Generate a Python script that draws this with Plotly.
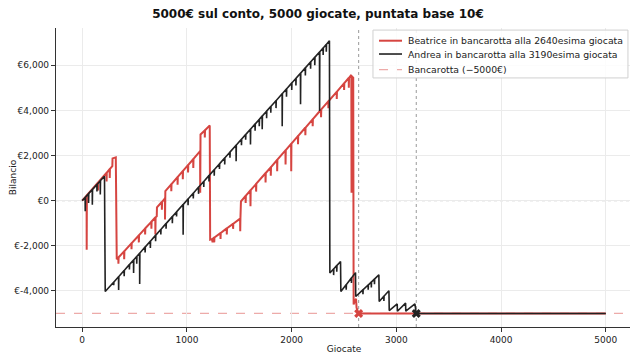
import plotly.graph_objects as go

# ---- Data (giocata number, balance in €) ----
BEA_GIOCATA = [0, 20, 42, 43, 45, 90, 150, 151, 153, 200, 232, 233, 235, 262, 263, 265, 288, 290, 321, 324, 330,
               345, 346, 348, 400, 401, 403, 470, 471, 473, 540, 541, 543, 600, 601, 603, 660, 661, 663, 698, 699, 701,
               712, 714, 760, 761, 763, 790, 791, 792, 794,
               850, 851, 853, 910, 911, 913, 960, 961, 963, 1010, 1011, 1013, 1060, 1061, 1063, 1126, 1127, 1129, 1130,
               1170, 1171, 1173, 1218, 1222,
               1240, 1245, 1247, 1260, 1261, 1263, 1320, 1321, 1323, 1380, 1381, 1383, 1440, 1441, 1443, 1508, 1509, 1511, 1516,
               1560, 1561, 1563, 1606, 1607, 1609, 1660, 1661, 1663, 1750, 1751, 1753, 1800, 1801, 1803, 1861, 1862, 1864,
               1941, 1942, 1944, 1995, 1996, 1998, 2060, 2061, 2063, 2130, 2131, 2133, 2200, 2201, 2203, 2280, 2281, 2283,
               2350, 2351, 2353, 2430, 2431, 2433, 2500, 2501, 2503, 2545, 2546, 2548, 2570, 2572, 2576, 2588, 2592,
               2600, 2615, 2620, 2640, 5000]
BEA_SALDO = [0, 100, 220, -2180, 240, 480, 800, 450, 810, 1060, 1230, 850, 1245, 1390, 1000, 1405, 1530, 1870, 1920, -2450, -2600,
             -2525, -2800, -2510, -2250, -2600, -2235, -1895, -2150, -1880, -1545, -1850, -1530, -1240, -1500, -1225, -940, -1250, -925, -750, -1500, -740,
             -690, -300, -60, -400, -50, 100, -840, 110, 420,
             720, 420, 730, 1040, 700, 1055, 1305, 950, 1320, 1570, 1250, 1585, 1835, 1450, 1850, 2190, 350, 2190, 2930,
             3110, 2800, 3120, 3330, -1730,
             -1700, -1850, -1690, -1640, -1850, -1630, -1440, -1700, -1430, -1230, -1500, -1220, -1030, -1250, -1020, -800, -1360, -790, -30,
             204, -100, 220, 448, -250, 464, 735, 400, 750, 1212, 800, 1225, 1478, 1100, 1490, 1800, 1300, 1815,
             2225, 1600, 2240, 2513, 1300, 2525, 2859, 2500, 2870, 3230, 2900, 3240, 3602, 3300, 3615, 4027, 3700, 4040,
             4399, 4100, 4410, 4823, 4500, 4835, 5195, 4900, 5205, 5434, 5000, 5445, 5570, 350, 5500, 5450, -4600,
             -4500, -4350, -4750, -5000, -5000]

AND_GIOCATA = [0, 28, 29, 31, 60, 61, 63, 96, 97, 99, 140, 141, 143, 172, 173, 175, 213, 220,
               300, 301, 303, 347, 348, 350, 400, 401, 403, 450, 451, 453, 490, 491, 493, 520, 521, 523, 548, 549, 551,
               600, 601, 603, 650, 651, 653, 700, 701, 703, 750, 751, 753, 800, 801, 803, 860, 861, 863, 900, 901, 903,
               963, 964, 966, 1010, 1011, 1013, 1060, 1061, 1063, 1110, 1111, 1113, 1160, 1161, 1163, 1210, 1211, 1213,
               1260, 1261, 1263, 1310, 1311, 1313, 1360, 1361, 1363, 1410, 1411, 1413, 1469, 1470, 1472, 1520, 1521, 1523,
               1560, 1561, 1563, 1606, 1607, 1609, 1650, 1651, 1653, 1690, 1691, 1693, 1718, 1719, 1721, 1760, 1761, 1763,
               1800, 1801, 1803, 1850, 1851, 1853, 1909, 1910, 1912, 1950, 1951, 1953, 2000, 2001, 2003, 2040, 2041, 2043,
               2084, 2085, 2087, 2130, 2131, 2133, 2180, 2181, 2183, 2220, 2221, 2223, 2266, 2267, 2269, 2300, 2301, 2303,
               2330, 2331, 2333, 2361, 2365,
               2400, 2401, 2403, 2430, 2431, 2433, 2467, 2470,
               2520, 2521, 2523, 2570, 2571, 2573, 2610, 2612,
               2680, 2681, 2683, 2730, 2731, 2733, 2760, 2761, 2763, 2790, 2791, 2793, 2833, 2836,
               2880, 2881, 2883, 2929, 2932, 3008, 3010, 3088, 3090, 3177, 3190, 5000]
AND_SALDO = [0, 140, -475, 155, 300, -100, 320, 490, -180, 500, 710, 400, 725, 870, 270, 890, 1080, -4030,
             -3615, -3750, -3605, -3371, -3960, -3360, -3096, -3350, -3085, -2836, -3050, -2825, -2629, -3210, -2620, -2473, -2800, -2465, -2328, -3690, -2320,
             -2058, -2300, -2050, -1798, -2100, -1790, -1539, -1800, -1530, -1279, -1500, -1270, -1020, -1250, -1010, -708, -1000, -700, -501, -700, -490,
             -174, -1510, -165, 70, -200, 80, 330, 100, 340, 589, 300, 600, 849, 600, 860, 1108, 850, 1120,
             1368, 1100, 1380, 1627, 1400, 1640, 1887, 1600, 1900, 2146, 1900, 2160, 2452, 1750, 2465, 2717, 2450, 2730,
             2925, 2700, 2935, 3163, 2490, 3175, 3392, 3100, 3400, 3599, 3300, 3610, 3745, 3160, 3755, 3963, 3650, 3975,
             4170, 3900, 4180, 4430, 4100, 4440, 4736, 3300, 4745, 4949, 4600, 4960, 5208, 4900, 5220, 5416, 5100, 5430,
             5644, 4270, 5655, 5883, 5550, 5895, 6142, 5850, 6155, 6350, 6000, 6360, 6589, 3970, 6600, 6765, 6450, 6775,
             6921, 6600, 6930, 7080, -3210,
             -3030, -3300, -3020, -2880, -3150, -2870, -2700, -4030,
             -3730, -3950, -3720, -3430, -3650, -3420, -3190, -4250,
             -3955, -4150, -3945, -3740, -3950, -3730, -3610, -3850, -3600, -3480, -3700, -3470, -3290, -4470,
             -4240, -4450, -4230, -3990, -4870, -4580, -4900, -4540, -4900, -4580, -5000, -5000]

BANCAROTTA = -5000
BEA_FALLIMENTO = 2640
AND_FALLIMENTO = 3190
Y_TICKS = [-4000, -2000, 0, 2000, 4000, 6000]
Y_TICK_LABELS = ["€-4,000", "€-2,000", "€0", "€2,000", "€4,000", "€6,000"]
X_TICKS = [0, 1000, 2000, 3000, 4000, 5000]

LEGEND_LABELS = [f"Beatrice in bancarotta alla {BEA_FALLIMENTO}esima giocata",
                 f"Andrea in bancarotta alla {AND_FALLIMENTO}esima giocata",
                 "Bancarotta (−5000€)"]

RED = "rgb(214,69,65)"
RED_LIGHT = "rgba(214,69,65,0.45)"
BLACK = "#222222"
FONT = "DejaVu Sans"

fig = go.Figure()
fig.add_trace(go.Scatter(x=BEA_GIOCATA, y=BEA_SALDO, mode="lines", showlegend=False,
                         line=dict(color=RED, width=2), name=LEGEND_LABELS[0]))
fig.add_trace(go.Scatter(x=AND_GIOCATA, y=AND_SALDO, mode="lines", showlegend=False,
                         line=dict(color=BLACK, width=1.6), name=LEGEND_LABELS[1]))
fig.add_trace(go.Scatter(x=[BEA_FALLIMENTO], y=[BANCAROTTA], mode="markers", showlegend=False,
                         marker=dict(symbol="x", size=8, color=RED)))
fig.add_trace(go.Scatter(x=[AND_FALLIMENTO], y=[BANCAROTTA], mode="markers", showlegend=False,
                         marker=dict(symbol="x", size=8, color=BLACK)))

shapes = [
    dict(type="line", xref="paper", x0=0, x1=1, yref="y", y0=0, y1=0,
         line=dict(color="#888888", width=1, dash="dot"), layer="below"),
    dict(type="line", xref="paper", x0=0, x1=1, yref="y", y0=BANCAROTTA, y1=BANCAROTTA,
         line=dict(color=RED_LIGHT, width=1.2, dash="dash"), layer="below"),
    dict(type="line", xref="x", x0=BEA_FALLIMENTO, x1=BEA_FALLIMENTO, yref="paper", y0=0, y1=1,
         line=dict(color="#999999", width=1, dash="dot"), layer="below"),
    dict(type="line", xref="x", x0=AND_FALLIMENTO, x1=AND_FALLIMENTO, yref="paper", y0=0, y1=1,
         line=dict(color="#999999", width=1, dash="dot"), layer="below"),
]

# manual legend (box, line samples, labels) in plot-area fractions
LEG_BOX = dict(x0=0.5503, x1=0.993, y0=0.833, y1=0.993)
LEG_ROWS = [0.9575, 0.913, 0.8605]
LEG_STYLES = [dict(color=RED, width=2), dict(color=BLACK, width=1.6),
              dict(color=RED_LIGHT, width=1.2, dash="dash")]
shapes.append(dict(type="rect", xref="paper", yref="paper", layer="above",
                   fillcolor="rgba(255,255,255,0.85)", line=dict(color="#d0d0d0", width=1), **LEG_BOX))
annotations = []
for yrow, style, label in zip(LEG_ROWS, LEG_STYLES, LEGEND_LABELS):
    shapes.append(dict(type="line", xref="paper", yref="paper", layer="above",
                       x0=0.5608, x1=0.6007, y0=yrow, y1=yrow, line=style))
    annotations.append(dict(xref="paper", yref="paper", x=0.6076, y=yrow, xanchor="left", yanchor="middle",
                            text=label, showarrow=False,
                            font=dict(family=FONT, size=9.3, color="#222222")))

fig.update_layout(
    width=630, height=352,
    margin=dict(l=48, r=6, t=20, b=33, autoexpand=False),
    paper_bgcolor="white", plot_bgcolor="white",
    font=dict(family=FONT, size=9, color="#222222"),
    title=dict(text="<b>5000€ sul conto, 5000 giocate, puntata base 10€</b>",
               x=0.492, xanchor="center", y=0.995, yanchor="top",
               font=dict(family=FONT, size=12, color="#111111")),
    shapes=shapes,
    annotations=annotations,
    showlegend=False,
)
fig.update_xaxes(range=[-250, 5250], tickvals=X_TICKS, showgrid=True, gridcolor="#ebebeb", gridwidth=1,
                 zeroline=False, showline=True, linecolor="#333333", linewidth=1.2, automargin=False,
                 ticks="outside", ticklen=4, tickcolor="#333333",
                 title=dict(text="Giocate", font=dict(size=9), standoff=1))
fig.update_yaxes(range=[-5600, 7650], tickvals=Y_TICKS, ticktext=Y_TICK_LABELS,
                 showgrid=True, gridcolor="#ebebeb", gridwidth=1, automargin=False,
                 zeroline=False, showline=True, linecolor="#333333", linewidth=1.2,
                 ticks="outside", ticklen=4, tickcolor="#333333",
                 title=dict(text="Bilancio", font=dict(size=9), standoff=6))

fig.write_html("out.html")
